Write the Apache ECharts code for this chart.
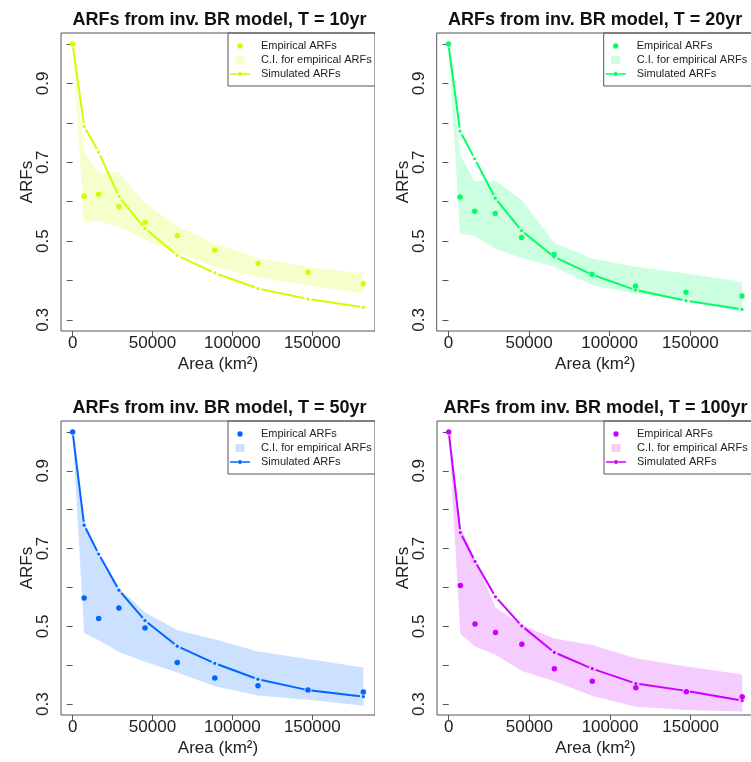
<!DOCTYPE html>
<html>
<head>
<meta charset="utf-8">
<script src="https://cdn.jsdelivr.net/npm/echarts@6/dist/echarts.min.js"></script>
<style>
body { margin: 0; background: #fff; overflow: hidden; width: 751px; height: 762px; position: relative; }
.panel { position: absolute; }
</style>
</head>
<body>
<div id="p10" class="panel" style="left:0;top:0;width:375px;height:380px"></div>
<div id="p20" class="panel" style="left:375px;top:0;width:380px;height:380px"></div>
<div id="p50" class="panel" style="left:0;top:380px;width:375px;height:382px"></div>
<div id="p100" class="panel" style="left:375px;top:380px;width:380px;height:382px"></div>
<script>
// areas (km2) where the ARFs are evaluated
var areas = [0, 7200, 16300, 29000, 45300, 65500, 89000, 116000, 147300, 182000];
var xTicks = [0, 50000, 100000, 150000];
var yTicks = [0.3, 0.4, 0.5, 0.6, 0.7, 0.8, 0.9, 1.0];
var yLabels = [0.3, 0.5, 0.7, 0.9];

// T = 10yr
var emp10 = [1.0, 0.614, 0.619, 0.587, 0.547, 0.514, 0.477, 0.443, 0.421, 0.392];
var sim10 = [1.0, 0.791, 0.726, 0.613, 0.532, 0.464, 0.419, 0.380, 0.353, 0.332];
var lo10  = [1.0, 0.546, 0.551, 0.536, 0.504, 0.471, 0.435, 0.407, 0.388, 0.367];
var hi10  = [1.0, 0.726, 0.673, 0.675, 0.597, 0.538, 0.494, 0.456, 0.435, 0.418];
// T = 20yr
var emp20 = [1.0, 0.612, 0.576, 0.570, 0.509, 0.466, 0.416, 0.386, 0.370, 0.361];
var sim20 = [1.0, 0.779, 0.709, 0.609, 0.527, 0.460, 0.415, 0.376, 0.349, 0.327];
var lo20  = [1.0, 0.519, 0.513, 0.481, 0.457, 0.435, 0.388, 0.367, 0.350, 0.321];
var hi20  = [1.0, 0.720, 0.652, 0.654, 0.605, 0.496, 0.456, 0.435, 0.418, 0.397];
// T = 50yr
var emp50 = [1.0, 0.573, 0.520, 0.547, 0.496, 0.407, 0.367, 0.347, 0.336, 0.331];
var sim50 = [1.0, 0.760, 0.686, 0.593, 0.515, 0.449, 0.405, 0.364, 0.336, 0.319];
var lo50  = [1.0, 0.483, 0.464, 0.434, 0.409, 0.381, 0.346, 0.322, 0.311, 0.296];
var hi50  = [1.0, 0.772, 0.690, 0.598, 0.536, 0.490, 0.467, 0.435, 0.416, 0.394];
// T = 100yr
var emp100 = [1.0, 0.605, 0.506, 0.484, 0.454, 0.391, 0.359, 0.342, 0.332, 0.319];
var sim100 = [1.0, 0.741, 0.667, 0.576, 0.501, 0.433, 0.391, 0.353, 0.334, 0.309];
var lo100  = [1.0, 0.480, 0.448, 0.427, 0.385, 0.359, 0.321, 0.293, 0.285, 0.281];
var hi100  = [1.0, 0.755, 0.672, 0.549, 0.503, 0.469, 0.452, 0.418, 0.397, 0.376];

var font = 'Liberation Sans, Arial, sans-serif';
var gap = 3.5; // R type="b": line stops short of the points

function pts(ys) {
    return areas.map(function (a, i) { return [a, ys[i]]; });
}

function drawPanel(id, T, col, fill, emp, sim, lo, hi, box) {
    var dom = document.getElementById(id);
    var myChart = echarts.init(dom);
    var option = {
        animation: false,
        textStyle: { fontFamily: font },
        title: {
            text: 'ARFs from inv. BR model, T = ' + T + 'yr',
            left: box.left + 317 / 2,
            top: box.top - 22,
            textAlign: 'center',
            padding: 0,
            textStyle: { fontSize: 18, fontWeight: 'bold', color: '#111', fontFamily: font }
        },
        grid: {
            left: box.left, top: box.top, width: 317, height: 298,
            show: true, borderColor: '#555', borderWidth: 1
        },
        legend: {
            left: box.left + 167, top: box.top,
            orient: 'vertical',
            borderColor: '#555', borderWidth: 1,
            padding: [7, 6, 6, 2],
            itemGap: 2, itemWidth: 20, itemHeight: 10,
            selectedMode: false,
            textStyle: { fontSize: 11, color: '#222', lineHeight: 12, padding: [0, 0, 0, 6], fontFamily: font },
            data: [
                { name: 'Empirical ARFs', icon: 'path://M0,0M20,10M7.3,5a2.7,2.7 0 1,0 5.4,0a2.7,2.7 0 1,0 -5.4,0z', itemStyle: { color: col } },
                { name: 'C.I. for empirical ARFs', icon: 'path://M0,0M20,10M5.5,1h9v8h-9z', itemStyle: { color: fill } },
                { name: 'Simulated ARFs', icon: 'path://M0,0M20,10M0,4.2h8v1.6h-8zM12,4.2h8v1.6h-8zM8,5a2,2 0 1,0 4,0a2,2 0 1,0 -4,0z', itemStyle: { color: col } }
            ]
        },
        xAxis: {
            type: 'value', min: -7280, max: 189280,
            axisLine: { show: false },
            splitLine: { show: false },
            axisTick: { show: true, customValues: xTicks, length: 5, lineStyle: { color: '#555' } },
            axisLabel: {
                customValues: xTicks, fontSize: 17, color: '#222', margin: 4, fontFamily: font,
                formatter: function (v) { return String(v); }
            },
            name: 'Area (km²)', nameLocation: 'middle', nameGap: 25, nameMoveOverlap: false,
            nameTextStyle: { fontSize: 17, color: '#222', fontFamily: font }
        },
        yAxis: {
            type: 'value', min: 0.272, max: 1.028,
            axisLine: { show: false },
            splitLine: { show: false },
            axisTick: { show: true, customValues: yTicks, length: 6, lineStyle: { color: '#555' } },
            axisLabel: {
                customValues: yLabels, rotate: 90, fontSize: 17, color: '#222', margin: 9, fontFamily: font,
                formatter: function (v) { return v.toFixed(1); }
            },
            name: 'ARFs', nameLocation: 'middle', nameGap: 25, nameRotate: 90, nameMoveOverlap: false,
            nameTextStyle: { fontSize: 17, color: '#222', fontFamily: font }
        },
        series: [
            {
                // C.I. band, one polygon: lower edge out, upper edge back
                name: 'C.I. for empirical ARFs',
                type: 'custom', z: 1, silent: true,
                data: areas.map(function (a, i) { return [a, lo[i], hi[i]]; }),
                encode: { x: 0, y: [1, 2] },
                itemStyle: { color: fill },
                renderItem: function (params, api) {
                    if (params.dataIndex !== 0) return null;
                    var poly = [];
                    for (var i = 0; i < areas.length; i++) poly.push(api.coord([areas[i], lo[i]]));
                    for (var j = areas.length - 1; j >= 0; j--) poly.push(api.coord([areas[j], hi[j]]));
                    return { type: 'polygon', shape: { points: poly }, style: { fill: fill } };
                }
            },
            {
                name: 'Empirical ARFs',
                type: 'scatter', data: pts(emp),
                symbol: 'circle', symbolSize: 5.5,
                itemStyle: { color: col, opacity: 1 }, z: 3
            },
            {
                name: 'Simulated ARFs',
                type: 'custom', data: pts(sim), z: 4,
                itemStyle: { color: col },
                renderItem: function (params, api) {
                    var i = params.dataIndex;
                    var p = api.coord([api.value(0), api.value(1)]);
                    var kids = [{ type: 'circle', shape: { cx: p[0], cy: p[1], r: 1.6 }, style: { fill: col } }];
                    if (i > 0) {
                        var q = api.coord([areas[i - 1], sim[i - 1]]);
                        var dx = p[0] - q[0], dy = p[1] - q[1];
                        var d = Math.sqrt(dx * dx + dy * dy);
                        if (d > 2 * gap) {
                            kids.push({
                                type: 'line',
                                shape: { x1: q[0] + dx / d * gap, y1: q[1] + dy / d * gap, x2: p[0] - dx / d * gap, y2: p[1] - dy / d * gap },
                                style: { stroke: col, lineWidth: 2 }
                            });
                        }
                    }
                    return { type: 'group', children: kids };
                }
            }
        ]
    };
    myChart.setOption(option, true);
}

drawPanel('p10', 10, '#CCFF00', '#F5FFCC', emp10, sim10, lo10, hi10, { left: 61, top: 33 });
drawPanel('p20', 20, '#00FF66', '#CCFFE0', emp20, sim20, lo20, hi20, { left: 61.7, top: 33 });
drawPanel('p50', 50, '#0066FF', '#CCE0FF', emp50, sim50, lo50, hi50, { left: 61, top: 41 });
drawPanel('p100', 100, '#CC00FF', '#F5CCFF', emp100, sim100, lo100, hi100, { left: 62, top: 41 });
</script>
</body>
</html>
